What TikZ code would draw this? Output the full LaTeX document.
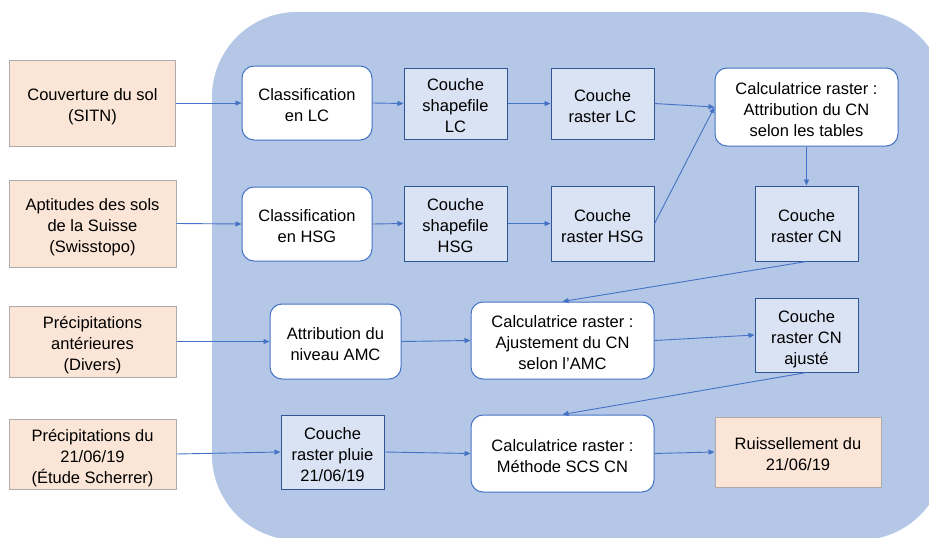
\documentclass[tikz,border=0pt]{standalone}
\usepackage{fontspec}
\setmainfont{Liberation Sans}
\usetikzlibrary{arrows.meta}
\definecolor{bgblue}{HTML}{B4C7E7}
\definecolor{layerfill}{HTML}{DAE3F3}
\definecolor{blueline}{HTML}{4472C4}
\definecolor{darkblue}{HTML}{2F5597}
\definecolor{peach}{HTML}{FBE5D6}
\definecolor{graybord}{HTML}{AFABAB}
\newcommand\boxtxt[1]{\raisebox{-4.2pt}[\height][\depth]{\begin{tabular}{@{}c@{}}#1\end{tabular}}}
\tikzset{
  base/.style={inner sep=0pt, font=\fontsize{16.5}{21}\selectfont, line width=1pt},
  srcbox/.style={base, fill=peach, draw=graybord},
  procbox/.style={base, fill=white, draw=blueline, rounded corners=12pt},
  layerbox/.style={base, fill=layerfill, draw=darkblue},
  conn/.style={draw=blueline, line width=0.9pt, -{Triangle[length=6pt,width=5pt]}},
  bw/.style 2 args={minimum width=#1pt, minimum height=#2pt},
}
\begin{document}
\begin{tikzpicture}[x=1pt,y=-1pt]
\useasboundingbox (0,0) rectangle (929,538);
\begin{scope}
\clip (0,0) rectangle (929,538);
\fill[bgblue, rounded corners=85pt] (212,12) rectangle (945,540);
\end{scope}

\node[srcbox, bw={166}{86}] (src1) at (92.5,103) {\boxtxt{Couverture du sol\\(SITN)}};
\node[srcbox, bw={167}{87}] (src2) at (92.5,223.5) {\boxtxt{Aptitudes des sols\\de la Suisse\\(Swisstopo)}};
\node[srcbox, bw={167}{71}] (src3) at (92.5,341.5) {\boxtxt{Précipitations\\antérieures\\(Divers)}};
\node[srcbox, bw={167}{70}] (src4) at (92.5,454) {\boxtxt{Précipitations du\\21/06/19\\(Étude Scherrer)}};

\node[procbox, bw={130}{74}] (clc) at (307,103) {\boxtxt{Classification\\en LC}};
\node[procbox, bw={130}{74}] (clh) at (307,224) {\boxtxt{Classification\\en HSG}};
\node[layerbox, bw={103}{71}] (shl) at (455.5,103.5) {\boxtxt{Couche\\shapefile\\LC}};
\node[layerbox, bw={103}{75}] (shh) at (455.5,223.5) {\boxtxt{Couche\\shapefile\\HSG}};
\node[layerbox, bw={103}{71}] (rl) at (602.5,103.5) {\boxtxt{Couche\\raster LC}};
\node[layerbox, bw={103}{75}] (rh) at (602.5,223.5) {\boxtxt{Couche\\raster HSG}};
\node[procbox, bw={183}{78}] (calc1) at (806.5,107) {\boxtxt{Calculatrice raster :\\Attribution du CN\\selon les tables}};
\node[layerbox, bw={103}{75}] (rcn) at (806.5,223.5) {\boxtxt{Couche\\raster CN}};
\node[procbox, bw={131}{75}] (amc) at (335.5,341.5) {\boxtxt{Attribution du\\niveau AMC}};
\node[procbox, bw={183}{77}] (calc2) at (562.5,340.5) {\boxtxt{Calculatrice raster :\\Ajustement du CN\\selon l’AMC}};
\node[layerbox, bw={103}{74}] (adj) at (806.5,335) {\boxtxt{Couche\\raster CN\\ajusté}};
\node[layerbox, bw={103}{74}] (pluie) at (332.5,452) {\boxtxt{Couche\\raster pluie\\21/06/19}};
\node[procbox, bw={183}{77}] (calc3) at (562.5,453.5) {\boxtxt{Calculatrice raster :\\Méthode SCS CN}};
\node[srcbox, bw={166}{70}] (ruis) at (798,452) {\boxtxt{Ruissellement du\\21/06/19}};

\draw[conn] (src1.east) -- (clc.west);
\draw[conn] (src2.east) -- (clh.west);
\draw[conn] (clc.east) -- (shl.west);
\draw[conn] (clh.east) -- (shh.west);
\draw[conn] (shl.east) -- (rl.west);
\draw[conn] (shh.east) -- (rh.west);
\draw[conn] (rl.east) -- (calc1.west);
\draw[conn] (rh.east) -- (calc1.west);
\draw[conn] (calc1.south) -- (rcn.north);
\draw[conn] (rcn.south) -- (calc2.north);
\draw[conn] (src3.east) -- (amc.west);
\draw[conn] (amc.east) -- (calc2.west);
\draw[conn] (calc2.east) -- (adj.west);
\draw[conn] (adj.south) -- (calc3.north);
\draw[conn] (src4.east) -- (pluie.west);
\draw[conn] (pluie.east) -- (calc3.west);
\draw[conn] (calc3.east) -- (ruis.west);
\end{tikzpicture}
\end{document}
